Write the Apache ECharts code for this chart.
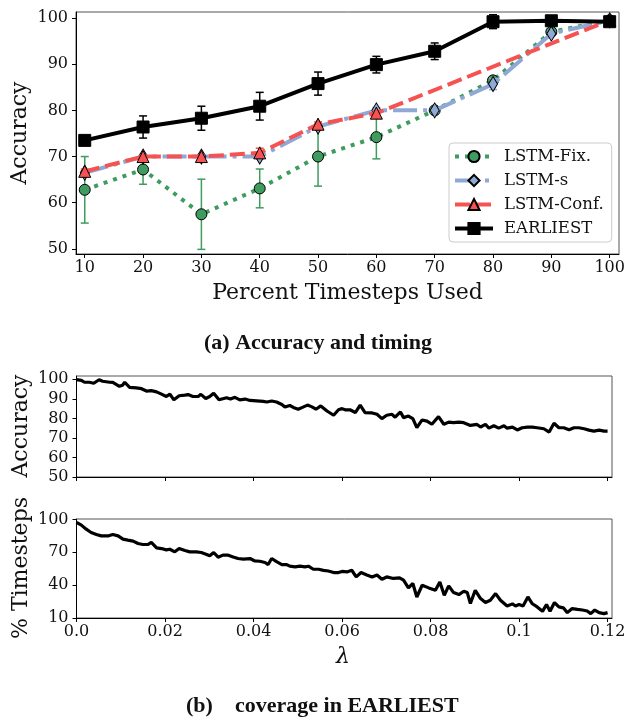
<!DOCTYPE html>
<html><head><meta charset="utf-8">
<script src="https://cdn.jsdelivr.net/npm/echarts@6/dist/echarts.min.js"></script>
<style>html,body{margin:0;padding:0;background:#fff}#c{width:629px;height:719px}</style>
</head><body><div id="c"></div>
<script>
// ---------- (a) Accuracy vs percent timesteps ----------
const pctUsed = [10, 20, 30, 40, 50, 60, 70, 80, 90, 100];
const fixAcc  = [62.8, 67.2, 57.5, 63.1, 70.0, 74.2, 80.0, 86.5, 97.0, 99.5];
const fixErr  = [7.2, 3.2, 7.6, 4.2, 6.4, 4.7, 0.5, 0.5, 0.5, 0.4];
const sAcc    = [66.5, 70.0, 70.0, 70.0, 76.5, 80.0, 80.0, 85.7, 96.6, 99.5];
const sErr    = [0.5, 0.4, 0.4, 0.5, 0.6, 0.6, 0.5, 1.2, 0.6, 0.3];
const confPct = [10, 20, 30, 40, 50, 60, 100];
const confAcc = [66.8, 70.0, 70.0, 70.8, 77.0, 79.4, 99.5];
const confErr = [0.5, 0.3, 0.3, 1.0, 0.5, 0.5, 0.3];
const earAcc  = [73.5, 76.4, 78.3, 80.9, 85.8, 89.9, 92.8, 99.2, 99.4, 99.2];
const earErr  = [0.4, 2.4, 2.6, 3.0, 2.5, 1.8, 1.8, 1.5, 0.5, 0.5];
const pctTicks = [10, 20, 30, 40, 50, 60, 70, 80, 90, 100];
const accTicksA = [50, 60, 70, 80, 90, 100];

// ---------- (b) coverage vs lambda ----------
const lamAcc = [0,0.0011,0.0018,0.0029,0.0039,0.0051,0.0059,0.0075,0.0082,0.0097,0.0104,0.0109,0.0120,0.0135,0.0147,0.0158,0.0169,0.0181,0.0192,0.0203,0.0211,0.0220,0.0232,0.0245,0.0252,0.0263,0.0275,0.0281,0.0292,0.0301,0.0310,0.0322,0.0339,0.0348,0.0358,0.0369,0.0381,0.0392,0.0407,0.0422,0.0430,0.0441,0.0452,0.0464,0.0471,0.0482,0.0490,0.0501,0.0513,0.0522,0.0532,0.0541,0.0552,0.0566,0.0581,0.0592,0.0600,0.0607,0.0618,0.0630,0.0641,0.0652,0.0668,0.0679,0.0690,0.0701,0.0713,0.0720,0.0732,0.0739,0.0750,0.0760,0.0769,0.0781,0.0792,0.0803,0.0818,0.0830,0.0841,0.0852,0.0864,0.0875,0.0890,0.0905,0.0913,0.0924,0.0932,0.0943,0.0954,0.0966,0.0973,0.0985,0.0996,0.1007,0.1019,0.1030,0.1041,0.1056,0.1068,0.1079,0.1090,0.1101,0.1113,0.1124,0.1135,0.1147,0.1158,0.1169,0.1181,0.1192,0.1200];
const accVals = [99.8,99.5,98.5,98.5,98.0,99.8,99.0,98.5,98.4,96.4,97.0,98.5,95.9,95.6,95.2,94.0,94.2,93.6,92.4,91.2,92.4,89.5,91.6,91.9,92.2,91.2,91.2,92.3,90.2,91.2,92.9,89.5,90.6,89.9,90.8,89.5,89.9,89.2,89.0,88.7,88.4,88.9,88.4,87.1,85.8,86.6,85.6,84.7,85.9,86.8,85.9,84.7,86.4,83.8,81.6,84.4,85.0,84.4,84.4,83.0,86.8,83.0,82.8,82.1,79.9,81.6,82.1,80.6,83.3,80.4,81.2,79.9,75.3,79.2,78.6,77.0,80.9,77.0,78.1,77.8,78.1,77.8,76.4,76.9,75.6,76.9,75.0,76.2,75.0,76.2,75.0,75.5,74.1,75.2,75.5,75.5,75.2,74.7,73.0,77.5,75.2,75.2,74.2,75.2,75.2,74.7,74.0,73.5,74.0,73.5,73.5];
const lamTs = [0,0.0011,0.0022,0.0033,0.0045,0.0056,0.0071,0.0082,0.0094,0.0105,0.0116,0.0128,0.0139,0.0150,0.0161,0.0169,0.0181,0.0192,0.0203,0.0211,0.0222,0.0232,0.0245,0.0256,0.0271,0.0282,0.0294,0.0301,0.0310,0.0320,0.0331,0.0343,0.0354,0.0365,0.0377,0.0392,0.0403,0.0414,0.0426,0.0433,0.0441,0.0452,0.0464,0.0475,0.0482,0.0494,0.0505,0.0516,0.0524,0.0535,0.0547,0.0558,0.0569,0.0581,0.0592,0.0600,0.0611,0.0622,0.0632,0.0643,0.0656,0.0668,0.0679,0.0690,0.0701,0.0716,0.0730,0.0739,0.0750,0.0760,0.0769,0.0781,0.0796,0.0811,0.0821,0.0831,0.0841,0.0852,0.0864,0.0875,0.0883,0.0890,0.0901,0.0913,0.0924,0.0935,0.0947,0.0958,0.0973,0.0985,0.0992,0.1000,0.1009,0.1020,0.1030,0.1041,0.1053,0.1062,0.1070,0.1080,0.1090,0.1100,0.1109,0.1120,0.1132,0.1143,0.1154,0.1162,0.1171,0.1181,0.1192,0.1200];
const tsVals = [97.3,94.8,91.1,88.1,86.3,85.0,84.9,86.3,85.0,82.0,81.1,80.2,78.0,77.1,77.1,79.0,74.0,73.4,72.2,72.8,70.4,73.5,71.6,70.4,70.4,69.8,68.0,66.8,69.8,65.5,67.4,67.4,65.8,64.3,63.7,64.3,62.1,61.8,60.7,58.8,64.3,61.4,58.8,58.8,57.3,56.7,57.3,56.7,57.3,54.5,54.5,53.5,52.9,51.5,51.5,52.5,52.1,53.6,47.5,51.5,49.3,47.5,49.3,45.4,47.5,46.1,46.7,44.5,37.5,41.5,29.2,39.9,37.5,35.3,42.9,30.8,39.3,33.2,31.4,34.4,33.2,23.2,35.3,27.7,24.1,26.2,32.3,26.2,21.0,22.9,21.0,22.3,21.0,29.2,23.0,20.1,16.1,22.3,16.1,24.1,20.1,19.3,14.9,18.6,17.9,17.3,16.4,14.0,17.3,14.9,14.0,14.9];
const lamTicks = [0, 0.02, 0.04, 0.06, 0.08, 0.1, 0.12];
const accTicksB = [50, 60, 70, 80, 90, 100];
const tsTicks = [10, 40, 70, 100];

const FONT = 'DejaVu Serif';
const TXT = '#111';
const cGreen = '#3f9b5f', cBlue = '#8fa8d4', cRed = '#f65252', cBlack = '#000';

function zip(xs, ys) { return xs.map((x, i) => [x, ys[i]]); }
function zip3(xs, ys, es) { return xs.map((x, i) => [x, ys[i], es[i]]); }

function errRender(color) {
  return function (params, api) {
    const x = api.value(0), y = api.value(1), e = api.value(2);
    const lo = api.coord([x, y - e]), hi = api.coord([x, y + e]);
    const w = 4, st = { stroke: color, lineWidth: 1.5 };
    return { type: 'group', children: [
      { type: 'line', shape: { x1: lo[0], y1: lo[1], x2: hi[0], y2: hi[1] }, style: st },
      { type: 'line', shape: { x1: lo[0] - w, y1: lo[1], x2: lo[0] + w, y2: lo[1] }, style: st },
      { type: 'line', shape: { x1: hi[0] - w, y1: hi[1], x2: hi[0] + w, y2: hi[1] }, style: st }
    ]};
  };
}

function axis(gridIndex, min, max, ticks, showLabels, fmt, margin) {
  return {
    type: 'value', gridIndex, min, max, scale: true,
    axisLine: { show: true, onZero: false, lineStyle: { color: '#000', width: 1 } },
    axisTick: { show: true, inside: false, length: 4, customValues: ticks, lineStyle: { color: '#000' } },
    axisLabel: { show: showLabels, customValues: ticks, margin: margin, fontFamily: FONT, fontSize: 16, color: TXT,
      formatter: fmt || (v => String(v)) },
    splitLine: { show: false }
  };
}

const chart = echarts.init(document.getElementById('c'), null, { renderer: 'canvas' });

function lineSeries(name, data, color, lineType, symbol, symbolSize, z) {
  return {
    name, type: 'line', xAxisIndex: 0, yAxisIndex: 0, data, z,
    symbol, symbolSize, showSymbol: true, animation: false,
    lineStyle: { color, width: 4, type: lineType, cap: 'butt' },
    itemStyle: { color, borderColor: '#000', borderWidth: 1 }
  };
}
function errSeries(data, color, z) {
  return { type: 'custom', xAxisIndex: 0, yAxisIndex: 0, data, z, animation: false,
    renderItem: errRender(color), encode: { x: 0, y: 1 }, silent: true };
}

const TITLE_FONT = '22px "DejaVu Serif"';
const CAP_FONT = 'bold 22px "Liberation Serif"';

const option = {
  backgroundColor: '#fff',
  animation: false,
  grid: [
    { left: 76, right: 10, top: 12, height: 242, show: true, borderColor: '#555', borderWidth: 1 },
    { left: 76.5, right: 17, top: 376, height: 101, show: true, borderColor: '#555', borderWidth: 1 },
    { left: 76.5, right: 17, top: 519, height: 99, show: true, borderColor: '#555', borderWidth: 1 }
  ],
  xAxis: [
    axis(0, 8.5, 101.6, pctTicks, true, null, 6),
    axis(1, 0, 0.121, lamTicks, false, null, 6),
    axis(2, 0, 0.121, lamTicks, true, v => v === 0 ? '0.0' : String(+v.toFixed(2)), 6)
  ],
  yAxis: [
    axis(0, 48.9, 101.3, accTicksA, true, null, 8),
    axis(1, 50, 101.7, accTicksB, true, null, 8),
    axis(2, 10, 100.4, tsTicks, true, null, 8)
  ],
  legend: {
    data: ['LSTM-Fix.', 'LSTM-s', 'LSTM-Conf.', 'EARLIEST'],
    orient: 'vertical', left: 449, top: 143,
    itemWidth: 38, itemHeight: 14, itemGap: 7,
    padding: [5, 8, 5, 4],
    borderColor: '#ccc', borderWidth: 1, borderRadius: 4,
    backgroundColor: 'rgba(255,255,255,0.85)',
    lineStyle: { width: 4 },
    textStyle: { fontFamily: FONT, fontSize: 16.5, color: TXT, padding: [0, 0, 0, 6] },
    z: 20
  },
  series: [
    errSeries(zip3(pctUsed, fixAcc, fixErr), cGreen, 2),
    lineSeries('LSTM-Fix.', zip(pctUsed, fixAcc), cGreen, [4, 6], 'circle', 11, 3),
    errSeries(zip3(pctUsed, sAcc, sErr), cBlue, 4),
    lineSeries('LSTM-s', zip(pctUsed, sAcc), cBlue, [24, 6, 4, 6], 'diamond', [9, 15], 5),
    errSeries(zip3(confPct, confAcc, confErr), cRed, 6),
    lineSeries('LSTM-Conf.', zip(confPct, confAcc), cRed, [15, 6], 'triangle', 12, 7),
    errSeries(zip3(pctUsed, earAcc, earErr), cBlack, 8),
    lineSeries('EARLIEST', zip(pctUsed, earAcc), cBlack, 'solid', 'rect', 12, 9),
    { type: 'line', xAxisIndex: 1, yAxisIndex: 1, data: zip(lamAcc, accVals), showSymbol: false,
      lineStyle: { color: '#000', width: 3.2 }, animation: false },
    { type: 'line', xAxisIndex: 2, yAxisIndex: 2, data: zip(lamTs, tsVals), showSymbol: false,
      lineStyle: { color: '#000', width: 3.2 }, animation: false }
  ],
  graphic: [
    { type: 'text', x: 20, y: 133, rotation: Math.PI / 2,
      style: { text: 'Accuracy', font: TITLE_FONT, fill: TXT, textAlign: 'center', textVerticalAlign: 'middle' } },
    { type: 'text', x: 347.5, y: 293,
      style: { text: 'Percent Timesteps Used', font: TITLE_FONT, fill: TXT, textAlign: 'center', textVerticalAlign: 'middle' } },
    { type: 'text', x: 318, y: 343,
      style: { text: '(a) Accuracy and timing', font: CAP_FONT, fill: TXT, textAlign: 'center', textVerticalAlign: 'middle' } },
    { type: 'text', x: 21, y: 426, rotation: Math.PI / 2,
      style: { text: 'Accuracy', font: TITLE_FONT, fill: TXT, textAlign: 'center', textVerticalAlign: 'middle' } },
    { type: 'text', x: 21, y: 568, rotation: Math.PI / 2,
      style: { text: '% Timesteps', font: TITLE_FONT, fill: TXT, textAlign: 'center', textVerticalAlign: 'middle' } },
    { type: 'text', x: 343, y: 657,
      style: { text: 'λ', font: 'italic 22px "DejaVu Serif"', fill: TXT, textAlign: 'center', textVerticalAlign: 'middle' } },
    { type: 'text', x: 186, y: 706,
      style: { text: '(b)', font: CAP_FONT, fill: TXT, textAlign: 'left', textVerticalAlign: 'middle' } },
    { type: 'text', x: 235, y: 706,
      style: { text: 'coverage in EARLIEST', font: CAP_FONT, fill: TXT, textAlign: 'left', textVerticalAlign: 'middle' } }
  ]
};
chart.setOption(option);
</script></body></html>
